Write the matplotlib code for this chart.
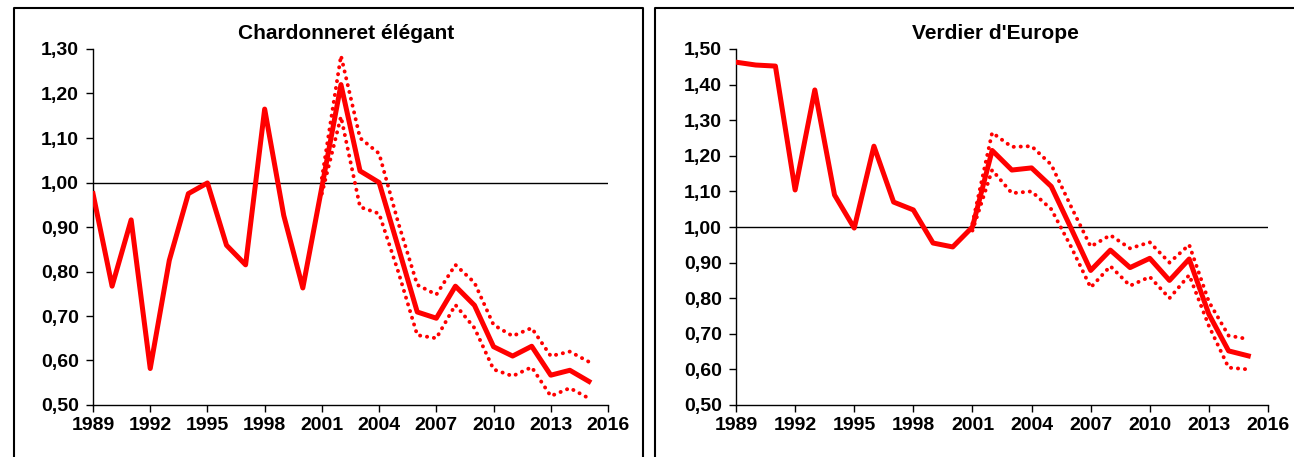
import matplotlib
matplotlib.use('Agg')
import matplotlib.pyplot as plt
from matplotlib.lines import Line2D
from matplotlib.ticker import FuncFormatter, MultipleLocator

plt.rcParams['font.family'] = ['Liberation Sans', 'DejaVu Sans']
plt.rcParams['font.weight'] = 'bold'

years = list(range(1989, 2016))
ci_years = list(range(2001, 2016))

# Chardonneret élégant
chard = [0.975, 0.767, 0.916, 0.582, 0.825, 0.975, 0.999, 0.859, 0.815, 1.165,
         0.926, 0.763, 0.99, 1.22, 1.026, 1.0, 0.855, 0.709, 0.695, 0.767,
         0.724, 0.631, 0.61, 0.632, 0.567, 0.578, 0.553]
chard_hi = [1.01, 1.285, 1.10, 1.065, 0.91, 0.77, 0.748, 0.815, 0.775, 0.68,
            0.655, 0.673, 0.61, 0.62, 0.597]
chard_lo = [0.975, 1.148, 0.945, 0.93, 0.80, 0.657, 0.65, 0.725, 0.673, 0.58,
            0.565, 0.585, 0.52, 0.538, 0.515]

# Verdier d'Europe
verdier = [1.463, 1.455, 1.452, 1.104, 1.385, 1.09, 0.997, 1.227, 1.07, 1.048,
           0.955, 0.944, 1.0, 1.215, 1.16, 1.166, 1.114, 0.997, 0.878, 0.935,
           0.886, 0.912, 0.85, 0.91, 0.755, 0.652, 0.638]
verdier_hi = [1.01, 1.265, 1.225, 1.227, 1.175, 1.058, 0.945, 0.977, 0.94, 0.957,
              0.90, 0.95, 0.79, 0.695, 0.685]
verdier_lo = [0.99, 1.16, 1.095, 1.10, 1.05, 0.945, 0.83, 0.89, 0.835, 0.86,
              0.80, 0.865, 0.722, 0.605, 0.60]

W, H = 1294, 457
fig = plt.figure(figsize=(W / 100, H / 100), dpi=100)

def px(x0, y0, x1, y1):
    return [x0 / W, 1 - y1 / H, (x1 - x0) / W, (y1 - y0) / H]

comma = FuncFormatter(lambda v, p: f"{v:.2f}".replace('.', ','))

def panel(rect, title, title_x, main, hi, lo, ymax):
    ax = fig.add_axes(px(*rect))
    ax.plot(years, main, color='#ff0000', lw=3.6, solid_joinstyle='round', zorder=3)
    for band in (hi, lo):
        ax.plot(ci_years, band, color='#ff0000', lw=2.8, linestyle=(0, (0.05, 1.75)),
                dash_capstyle='round', zorder=2)
    ax.axhline(1.0, color='black', lw=1.0, zorder=1)
    ax.set_xlim(1989, 2016)
    ax.set_ylim(0.5, ymax)
    ax.xaxis.set_major_locator(MultipleLocator(3))
    ax.yaxis.set_major_locator(MultipleLocator(0.1))
    ax.yaxis.set_major_formatter(comma)
    for s in ('top', 'right'):
        ax.spines[s].set_visible(False)
    for s in ('left', 'bottom'):
        ax.spines[s].set_linewidth(1.0)
    ax.tick_params(direction='out', length=5, width=1.0, labelsize=14)
    ax.tick_params(axis='y', pad=5)
    ax.tick_params(axis='x', pad=4)
    for lab in ax.get_xticklabels() + ax.get_yticklabels():
        lab.set_fontweight('bold')
    fig.text(title_x / W, 1 - 39 / H, title, ha='center', va='baseline',
             fontsize=15, fontweight='bold')
    ax.patch.set_alpha(0)
    return ax

panel((93, 49, 608, 405), 'Chardonneret élégant', 346, chard, chard_hi, chard_lo, 1.30)
panel((736, 49, 1268, 405), "Verdier d'Europe", 995, verdier, verdier_hi, verdier_lo, 1.50)

# panel frames
def fline(xs, ys, lw=1.5):
    fig.add_artist(Line2D([x / W for x in xs], [1 - y / H for y in ys],
                          color='black', lw=lw, transform=fig.transFigure))

fline([14, 14, 643, 643], [H + 5, 8, 8, H + 5])
fline([655, 655, W + 5], [H + 5, 8, 8])

fig.savefig('out.png', dpi=100)
